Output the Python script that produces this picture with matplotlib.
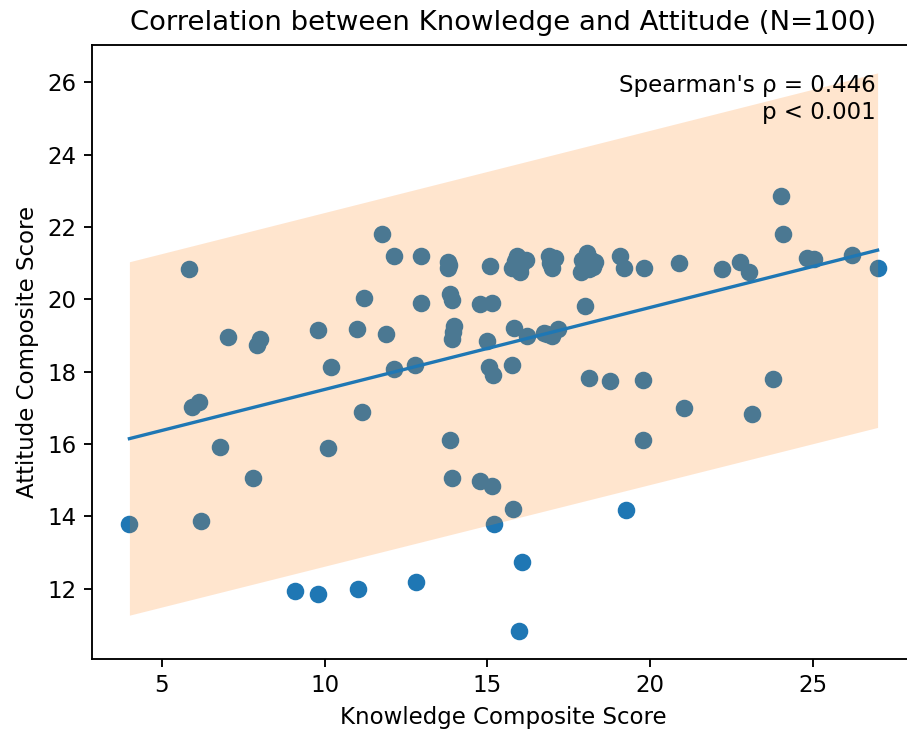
import matplotlib
matplotlib.use("Agg")
import matplotlib.pyplot as plt
import numpy as np

# Knowledge (x) and Attitude (y) composite scores
knowledge = [4.0, 5.84, 5.91, 6.14, 6.19, 6.78, 7.04, 7.8, 8.01, 7.92,
             9.09, 9.8, 9.81, 10.19, 10.09, 10.99, 11.02, 11.14, 11.22, 11.77,
             11.89, 12.14, 12.14, 12.78, 12.82, 12.96, 12.96, 13.79, 13.79, 13.84,
             13.91, 13.97, 13.91, 13.84, 13.91, 14.79, 14.99, 14.77, 15.09, 15.14,
             15.06, 15.18, 15.14, 15.22, 15.77, 15.91, 16.06, 16.19, 16.02, 15.82,
             15.75, 15.8, 16.06, 15.97, 16.21, 16.91, 16.99, 16.99, 16.74, 16.99,
             17.19, 17.88, 17.92, 18.06, 18.32, 18.14, 18.19, 18.02, 18.14, 18.77,
             19.09, 19.19, 19.27, 19.81, 19.79, 19.79, 20.89, 21.04, 22.22, 22.76,
             23.04, 23.14, 23.8, 24.04, 24.09, 24.84, 25.04, 26.22, 27.0, 15.94,
             17.09, 17.99, 13.82, 16.04, 18.09, 16.94, 15.84, 18.24, 13.94, 16.84]
attitude = [13.8, 20.85, 17.02, 17.15, 13.87, 15.93, 18.95, 15.06, 18.91, 18.75,
            11.93, 11.85, 19.16, 18.12, 15.9, 19.17, 11.98, 16.88, 20.05, 21.8,
            19.04, 21.19, 18.07, 18.18, 12.18, 21.19, 19.91, 21.02, 20.86, 20.14,
            19.98, 19.25, 18.9, 16.12, 15.06, 19.88, 18.86, 14.97, 20.93, 19.9,
            18.13, 17.9, 14.85, 13.8, 20.88, 21.2, 21.05, 21.08, 20.75, 19.2,
            18.18, 14.2, 12.75, 10.83, 18.99, 21.2, 21.08, 20.86, 19.08, 19.0,
            19.17, 20.75, 21.1, 21.28, 21.02, 20.84, 21.1, 19.83, 17.83, 17.75,
            21.2, 20.88, 14.18, 20.88, 17.78, 16.12, 21.0, 17.0, 20.83, 21.02,
            20.75, 16.83, 17.8, 22.87, 21.8, 21.15, 21.12, 21.22, 20.88, 21.15,
            21.15, 21.0, 20.95, 20.95, 20.95, 21.0, 21.05, 20.9, 19.1, 19.05]

# Fitted line and prediction band at the ends of the x range
fit_x = [4.0, 27.0]
fit_y = [16.15, 21.36]
band_lower = [11.27, 16.46]
band_upper = [21.04, 26.26]

rho_text = "Spearman's ρ = 0.446\np < 0.001"

fig = plt.figure(figsize=(907 / 150, 732 / 150), dpi=150)
ax = fig.add_axes([92 / 907, 1 - 659 / 732, (915 - 92) / 907, (659 - 45) / 732])

ax.scatter(knowledge, attitude, s=55, color="C0")
ax.fill_between(fit_x, band_lower, band_upper, color="C1", alpha=0.2, linewidth=0)
ax.plot(fit_x, fit_y, color="C0", linewidth=1.6)

ax.text(0.952, 0.952, rho_text, transform=ax.transAxes, ha="right", va="top",
        fontsize=11)

ax.set_title("Correlation between Knowledge and Attitude (N=100)", fontsize=13.2,
             pad=7)
ax.set_xlabel("Knowledge Composite Score", fontsize=11)
ax.set_ylabel("Attitude Composite Score", fontsize=11)
ax.set_xticks([5, 10, 15, 20, 25])
ax.set_yticks([12, 14, 16, 18, 20, 22, 24, 26])
ax.tick_params(labelsize=11, length=3.9, width=0.9)
for sp in ax.spines.values():
    sp.set_linewidth(0.9)

fig.savefig("out.png", dpi=150)
